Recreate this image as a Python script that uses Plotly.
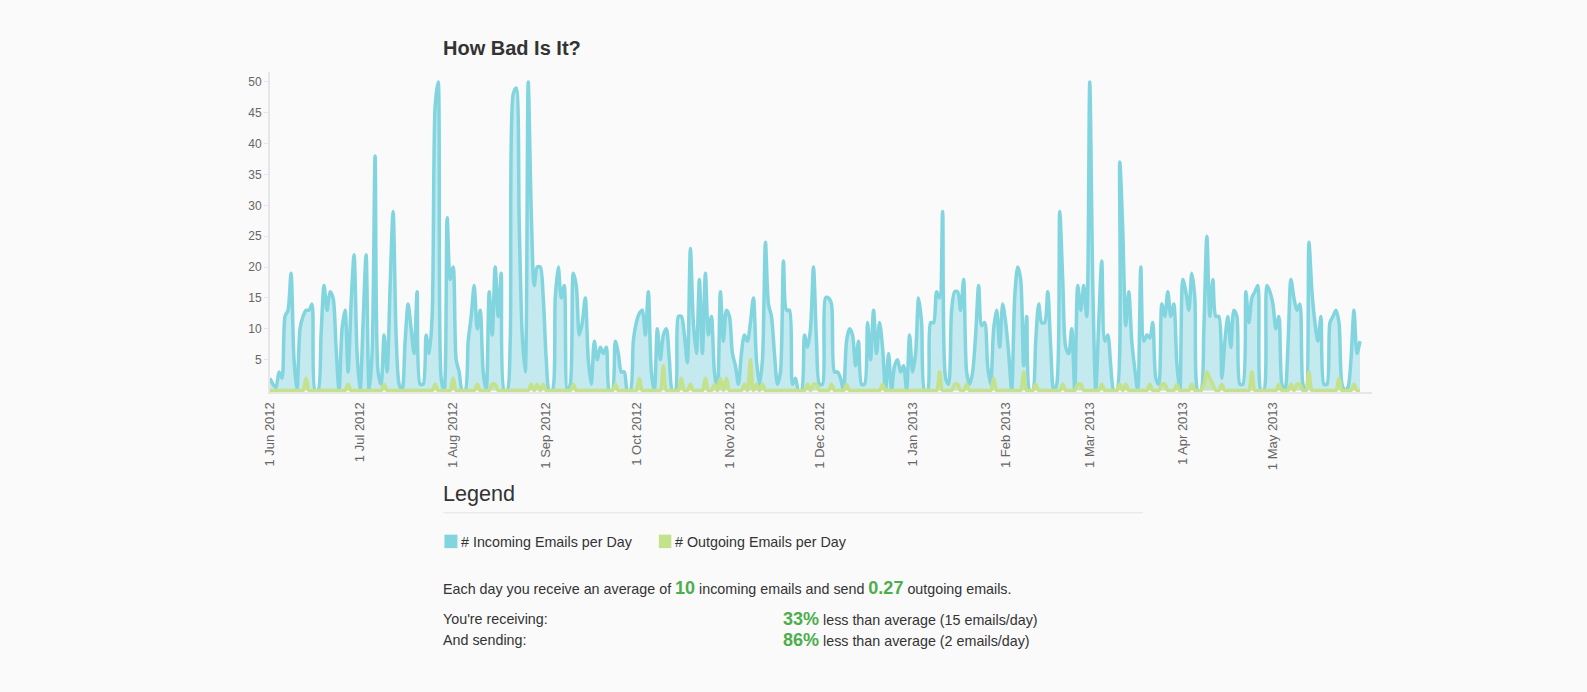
import plotly.graph_objects as go
import pandas as pd

# ---------------- data ----------------
start_date = "2012-06-01"

# incoming emails per day, 1 Jun 2012 .. 30 May 2013 (two weeks per row)
incoming = [
    2, 1, 0.5, 3, 2, 12, 13, 19, 5, 0, 10, 12, 13, 13,
    14, 0, 0, 9, 17, 13, 16, 15, 7, 0, 10, 13, 3, 14,
    22, 6, 0, 11, 22, 0, 6, 38, 3, 1, 9, 3, 17, 29,
    9, 1, 0, 8, 14, 10, 6, 16, 1, 1, 9, 6, 12, 46,
    50, 2, 0, 28, 18, 20, 5, 3, 0, 0, 8, 12, 17, 10,
    13, 3, 0, 16, 9, 20, 12, 19, 0, 0, 8, 48, 49, 27,
    9, 3, 50, 29, 17, 20, 20, 15, 5, 0, 0, 15, 20, 15,
    17, 0, 1, 19, 17, 9, 11, 15, 5, 1, 8, 5, 7, 6,
    7, 0, 0, 8, 6, 3, 3, 0, 0, 8, 11, 12.5, 13, 9,
    16, 3, 0, 10, 5, 9, 10, 5, 0, 0, 12, 12, 9, 4.5,
    23, 11, 6, 18, 6, 19, 9, 12, 3, 0, 16, 8, 13, 12,
    6, 4, 1, 6, 9, 8, 11, 15, 5, 1, 5, 24, 14, 12,
    6, 1, 3, 21, 13, 13, 1, 2, 0, 0, 9, 7, 10, 20,
    8, 1, 1, 15, 15, 14, 3, 3, 2, 0, 8, 10, 9, 4,
    8, 1, 1, 11, 5, 13, 6, 11, 7, 0, 6, 0, 4, 5,
    3, 4, 0, 9, 3, 6, 15, 11, 0, 0, 11, 11, 16, 15,
    29, 2, 1, 13, 16, 16, 13, 18, 3, 1, 3, 9, 17, 10.5,
    11, 4, 1, 10, 13, 7, 14, 11, 6, 0, 15, 20, 18, 4,
    12, 0, 0, 8, 14, 11, 11, 16, 7, 0, 1, 29, 18, 7,
    6, 10, 0, 17, 13, 17, 12, 50, 17.5, 0, 11, 21, 8, 9,
    4, 0, 0, 37, 26, 10.5, 16, 8, 3.5, 0, 20, 8, 9, 8.5,
    11, 2, 1, 14, 12, 16, 12, 14, 4.5, 0, 18, 16, 13, 19,
    15, 0, 0, 10, 25, 12, 18, 12, 12, 2, 8, 12, 7, 13,
    12, 1, 1, 16, 11, 15, 16, 17, 0, 0, 17, 16, 14, 10,
    12, 1, 0, 7, 18, 15, 13, 14, 1, 0, 24, 16, 11, 8,
    12, 1, 1, 11, 12, 13, 11, 1, 0, 0.5, 5, 13, 6, 8,
]

# outgoing emails per day, same dates
outgoing = [
    0, 0, 0, 0, 0, 0, 0, 0, 0, 0, 0, 0, 2, 0,
    0, 0, 0, 0, 0, 0, 0, 0, 0, 0, 0, 0, 1, 0,
    0, 0, 0, 0, 0, 0, 0, 0, 0, 0, 1, 0, 0, 0,
    0, 0, 0, 0, 0, 0, 0, 0, 0, 0, 0, 0, 0, 1,
    0, 0, 0, 0, 0, 2, 0, 0, 0, 0, 0, 0, 0, 1,
    0, 0, 0, 0, 1, 1, 0, 0, 0, 0, 0, 0, 0, 0,
    0, 0, 0, 1, 0, 1, 0, 1, 0, 0, 0, 0, 0, 0,
    0, 0, 0, 1, 0, 0, 0, 0, 0, 0, 0, 0, 0, 0,
    0, 0, 0, 1, 0, 0, 0, 0, 0, 0, 0, 2, 0, 0,
    0, 0, 0, 0, 0, 4, 0, 0, 0, 0, 0, 2, 0, 0,
    1, 0, 0, 0, 0, 2, 0, 0, 1, 0, 2, 0, 2, 0,
    0, 0, 0, 0, 1, 0, 5, 0, 1, 0, 1, 0, 0, 0,
    0, 0, 0, 0, 0, 0, 0, 0, 0, 0, 0, 1, 0, 1,
    1, 0, 0, 0, 0, 1, 0, 0, 0, 0, 1, 0, 0, 0,
    0, 0, 0, 0, 0, 0, 0, 0, 1, 0, 0, 0, 0, 0,
    0, 0, 0, 0, 0, 0, 0, 0, 0, 0, 0, 0, 0, 3,
    0, 0, 0, 0, 1, 1, 0, 0, 1, 0, 0, 0, 0, 0,
    0, 0, 0, 2, 0, 0, 0, 0, 0, 0, 0, 0, 0, 3,
    0, 0, 0, 1, 0, 0, 0, 0, 0, 0, 0, 0, 1, 0,
    0, 0, 0, 1, 1, 0, 0, 0, 0, 0, 0, 1, 0, 0,
    0, 0, 0, 1, 0, 1, 0, 0, 0, 0, 0, 0, 0, 1,
    0, 0, 0, 1, 1, 0, 0, 0, 1, 0, 0, 0, 0, 1,
    0, 0, 0, 1, 3, 2, 1, 0, 0, 1, 0, 0, 0, 0,
    0, 0, 0, 0, 0, 3, 0, 0, 0, 0, 0, 0, 0, 0,
    1, 0, 0, 0, 1, 0, 1, 1, 0, 0, 3, 0, 0, 0,
    0, 0, 0, 0, 0, 0, 2, 0, 0, 0, 0, 1, 0, 0,
]

month_ticks = ["2012-06-01", "2012-07-01", "2012-08-01", "2012-09-01",
               "2012-10-01", "2012-11-01", "2012-12-01", "2013-01-01",
               "2013-02-01", "2013-03-01", "2013-04-01", "2013-05-01"]
month_labels = ["1 Jun 2012", "1 Jul 2012", "1 Aug 2012", "1 Sep 2012",
                "1 Oct 2012", "1 Nov 2012", "1 Dec 2012", "1 Jan 2013",
                "1 Feb 2013", "1 Mar 2013", "1 Apr 2013", "1 May 2013"]
y_ticks = [5, 10, 15, 20, 25, 30, 35, 40, 45, 50]

series_names = ["# Incoming Emails per Day", "# Outgoing Emails per Day"]
avg_incoming = "10"
avg_outgoing = "0.27"
recv_pct, recv_avg = "33%", "15"
send_pct, send_avg = "86%", "2"

# ---------------- style ----------------
FONT = "Liberation Sans, Arial, Helvetica, sans-serif"
TEXT = "#333333"
TEAL = "#82d5df"
TEAL_FILL = "rgba(130,213,223,0.45)"
GREEN = "#c4e18b"
GREEN_FILL = "rgba(196,225,139,0.5)"
NUM_GREEN = "#4cae4c"
BG = "#fafafa"

W_FIG, H_FIG = 1587, 692
L, R = 269.5, 1372.0
T, B = 71.7, 392.5
PW, PH = R - L, B - T


def px(x):
    return (x - L) / PW


def py(y):
    return (B - y) / PH


dates = pd.date_range(start_date, periods=len(incoming), freq="D")

fig = go.Figure()
fig.add_trace(go.Scatter(
    x=dates, y=incoming, mode="lines", name=series_names[0],
    line=dict(color=TEAL, width=3.5, shape="spline", smoothing=0.8),
    fill="tozeroy", fillcolor=TEAL_FILL, hoverinfo="skip"))
fig.add_trace(go.Scatter(
    x=dates, y=outgoing, mode="lines", name=series_names[1],
    line=dict(color=GREEN, width=3.5, shape="spline", smoothing=0.8),
    fill="tozeroy", fillcolor=GREEN_FILL, hoverinfo="skip"))

fig.update_layout(
    width=W_FIG, height=H_FIG, autosize=False,
    margin=dict(l=L, r=W_FIG - R, t=T, b=H_FIG - B, pad=0),
    paper_bgcolor=BG, plot_bgcolor=BG,
    showlegend=False,
    font=dict(family=FONT, color=TEXT),
    xaxis=dict(
        type="date", range=["2012-06-01", "2013-06-03"],
        tickvals=month_ticks, ticktext=month_labels, tickangle=-90,
        tickfont=dict(size=13, color="#666666"),
        ticklabelstandoff=3,
        showgrid=False, zeroline=False, showline=True,
        linecolor="#e6e6e6", linewidth=2, ticks="",
    ),
    yaxis=dict(
        range=[-0.24, 51.6], tickvals=y_ticks,
        tickfont=dict(size=12, color="#666666"),
        showgrid=False, zeroline=False, showline=True,
        linecolor="#e6e6e6", linewidth=2,
        ticks="outside", ticklen=4, tickcolor="#e6e6e6", tickwidth=1,
    ),
)

ann = []
BASE = 14.3


def add_text(x, y, text, size=BASE, color=TEXT):
    ann.append(dict(x=px(x), y=py(y), xref="paper", yref="paper",
                    text=text, showarrow=False, xanchor="left",
                    yanchor="middle", align="left",
                    font=dict(size=size, color=color, family=FONT)))


def num(s):
    return '<b><span style="color:%s;font-size:18px">%s</span></b>' % (NUM_GREEN, s)


add_text(441, 47.6, "<b>How Bad Is It?</b>", size=20)
add_text(441, 494.5, "Legend", size=21.6)
add_text(459, 542.5, series_names[0])
add_text(673, 542.5, series_names[1])
add_text(441, 588.5,
         "Each day you receive an average of " + num(avg_incoming)
         + " incoming emails and send " + num(avg_outgoing)
         + " outgoing emails.")
add_text(441, 620.5, "You're receiving:")
add_text(781, 620.5, num(recv_pct) + " less than average (%s emails/day)" % recv_avg)
add_text(441, 641, "And sending:")
add_text(781, 641, num(send_pct) + " less than average (%s emails/day)" % send_avg)

fig.update_layout(annotations=ann)

shapes = [
    dict(type="line", xref="paper", yref="paper",
         x0=px(443), x1=px(1143), y0=py(513.6), y1=py(513.6),
         line=dict(color="#e3e3e3", width=1)),
    dict(type="rect", xref="paper", yref="paper",
         x0=px(444), x1=px(457), y0=py(549), y1=py(535.5),
         fillcolor=TEAL, line=dict(width=0)),
    dict(type="rect", xref="paper", yref="paper",
         x0=px(658.5), x1=px(671), y0=py(549), y1=py(535.5),
         fillcolor=GREEN, line=dict(width=0)),
]
fig.update_layout(shapes=shapes)

fig.write_html("out.html", config={"displayModeBar": False},
               post_script="document.body.style.margin='0';")
